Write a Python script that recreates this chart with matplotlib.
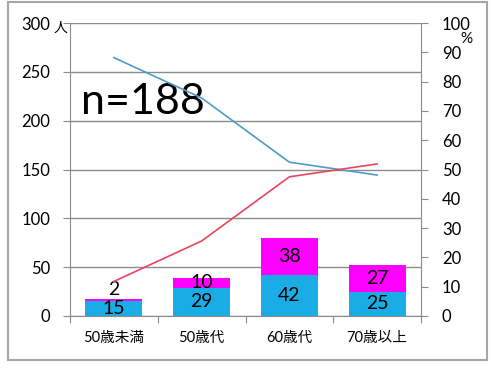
import matplotlib.pyplot as plt
from matplotlib.patches import Rectangle

plt.rcParams['font.family'] = ['Lato', 'Noto Sans CJK JP', 'DejaVu Sans']

categories = ['50歳未満', '50歳代', '60歳代', '70歳以上']
bottom_vals = [15, 29, 42, 25]
top_vals = [2, 10, 38, 27]
blue_pct = [88.2, 74.4, 52.5, 48.1]
red_pct = [11.8, 25.6, 47.5, 51.9]
n_label = 'n=188'

c_bar_bottom = '#1aace4'
c_bar_top = '#ff00ff'
c_line_blue = '#4f9bc7'
c_line_red = '#e8455f'
grey = '#8c8c8c'

fig = plt.figure(figsize=(4.91, 3.68), dpi=100)
fig.patches.append(Rectangle((8 / 491, 1 - 360 / 368), 479 / 491, 358 / 368,
                             transform=fig.transFigure, fill=False,
                             edgecolor='#a6a6a6', linewidth=1.5))

ax = fig.add_axes([70 / 491, 52 / 368, 351 / 491, 293 / 368])
x = list(range(len(categories)))
ax.bar(x, bottom_vals, width=0.65, color=c_bar_bottom, zorder=2)
ax.bar(x, top_vals, width=0.65, bottom=bottom_vals, color=c_bar_top, zorder=2)

for i in x:
    b = bottom_vals[i]
    t = top_vals[i]
    ax.text(i, b / 2, str(b), ha='center', va='center', fontsize=14, zorder=3)
    if t < 5:
        # thin segment: put the label just above the bar
        ax.annotate(str(t), (i, b + t), xytext=(0, 1), textcoords='offset points',
                    ha='center', va='bottom', fontsize=14, zorder=3)
    else:
        ax.text(i, b + t / 2, str(t), ha='center', va='center', fontsize=14, zorder=3)

ax.set_xlim(-0.5, 3.5)
ax.set_ylim(0, 300)
ax.set_yticks(range(0, 301, 50))
ax.yaxis.grid(True, color=grey, linewidth=1)
ax.set_axisbelow(True)
ax.set_xticks([i + 0.5 for i in range(-1, 4)])
ax.set_xticklabels([])
ax.set_xticks(x, minor=True)
ax.set_xticklabels(categories, minor=True, fontsize=10.5)
ax.tick_params(axis='x', which='minor', length=0, pad=11)
ax.tick_params(axis='x', which='major', length=5, color=grey, direction='out')
ax.tick_params(axis='y', length=5, color=grey, labelsize=12, pad=9)
for s in ['top', 'right']:
    ax.spines[s].set_visible(False)
for s in ['left', 'bottom']:
    ax.spines[s].set_color(grey)

ax2 = ax.twinx()
ax2.plot(x, blue_pct, color=c_line_blue, linewidth=1.2, zorder=4)
ax2.plot(x, red_pct, color=c_line_red, linewidth=1.2, zorder=4)
ax2.set_ylim(0, 100)
ax2.set_yticks(range(0, 101, 10))
ax2.tick_params(axis='y', length=5, color=grey, labelsize=12, pad=10)
for s in ['top', 'left', 'bottom']:
    ax2.spines[s].set_visible(False)
ax2.spines['right'].set_color(grey)

fig.text(54 / 491, 1 - 28 / 368, '人', fontsize=10, ha='left', va='center')
fig.text(460 / 491, 1 - 39 / 368, '%', fontsize=11, ha='left', va='center')
ax.text(0.03, 0.73, n_label, transform=ax.transAxes, fontsize=31,
        ha='left', va='center', zorder=5)

fig.savefig('out.png', dpi=100)
